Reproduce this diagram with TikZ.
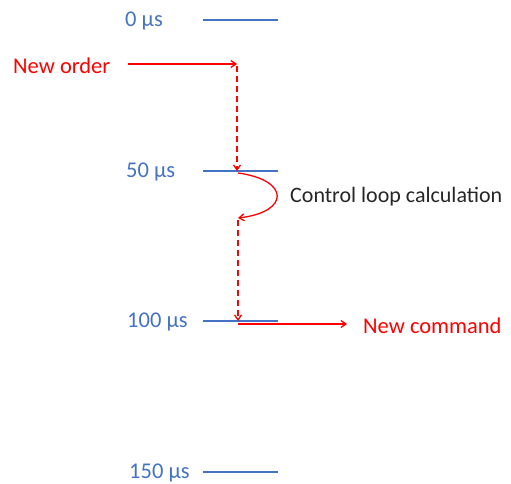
\documentclass[tikz,border=0pt]{standalone}
\usepackage{fontspec}
\setmainfont{Carlito}
\usetikzlibrary{arrows.meta}
\definecolor{tblue}{HTML}{4472C4}
\definecolor{tred}{HTML}{FF0000}
\definecolor{tgray}{HTML}{262626}
\begin{document}
\begin{tikzpicture}[x=1pt,y=-1pt,
  tick/.style={draw=tblue,line width=1.3pt},
  tlabel/.style={text=tblue,font=\fontsize{22.5}{26}\selectfont,anchor=west,inner sep=0pt},
  rlabel/.style={text=tred,font=\fontsize{22.5}{26}\selectfont,anchor=west,inner sep=0pt},
  arr/.style={draw=tred,line width=1.3pt,-{Straight Barb[length=5pt,width=7pt]}},
  darr/.style={arr,dash pattern=on 6pt off 4pt}]
\useasboundingbox (0,0) rectangle (511,484);
% time ticks
\node[tlabel] (t0) at (125,21) {0 µs};
\node[tlabel] (t50) at (126,172) {50 µs};
\node[tlabel] (t100) at (127,322) {100 µs};
\node[tlabel] (t150) at (129,473) {150 µs};
\coordinate (a0) at (203,20); \coordinate (b0) at (278,20);
\coordinate (a50) at (203,171); \coordinate (b50) at (278,171);
\coordinate (a100) at (203,321); \coordinate (b100) at (278,321);
\coordinate (a150) at (203,472); \coordinate (b150) at (278,472);
\draw[tick] (a0) -- (b0);
\draw[tick] (a50) -- (b50);
\draw[tick] (a100) -- (b100);
\draw[tick] (a150) -- (b150);
% labels
\node[rlabel] (order) at (13,66) {New order};
\node[rlabel] (cmd) at (363,326) {New command};
\node[text=tgray,font=\fontsize{22}{26}\selectfont,anchor=west,inner sep=0pt] (calc) at (290,197) {Control loop calculation};
% arrows
\coordinate (o1) at (128,64); \coordinate (o2) at (237,64);
\coordinate (p1) at (237,66); \coordinate (p2) at (237,171);
\coordinate (c1) at (238,173); \coordinate (c2) at (238,218);
\coordinate (q1) at (238,220); \coordinate (q2) at (238,321);
\coordinate (r1) at (238,324); \coordinate (r2) at (347,324);
\draw[arr] (o1) -- (o2);
\draw[darr] (p1) -- (p2);
\draw[arr] (c1) .. controls (290,180) and (290,212) .. (c2);
\draw[darr] (q1) -- (q2);
\draw[arr] (r1) -- (r2);
\end{tikzpicture}
\end{document}
